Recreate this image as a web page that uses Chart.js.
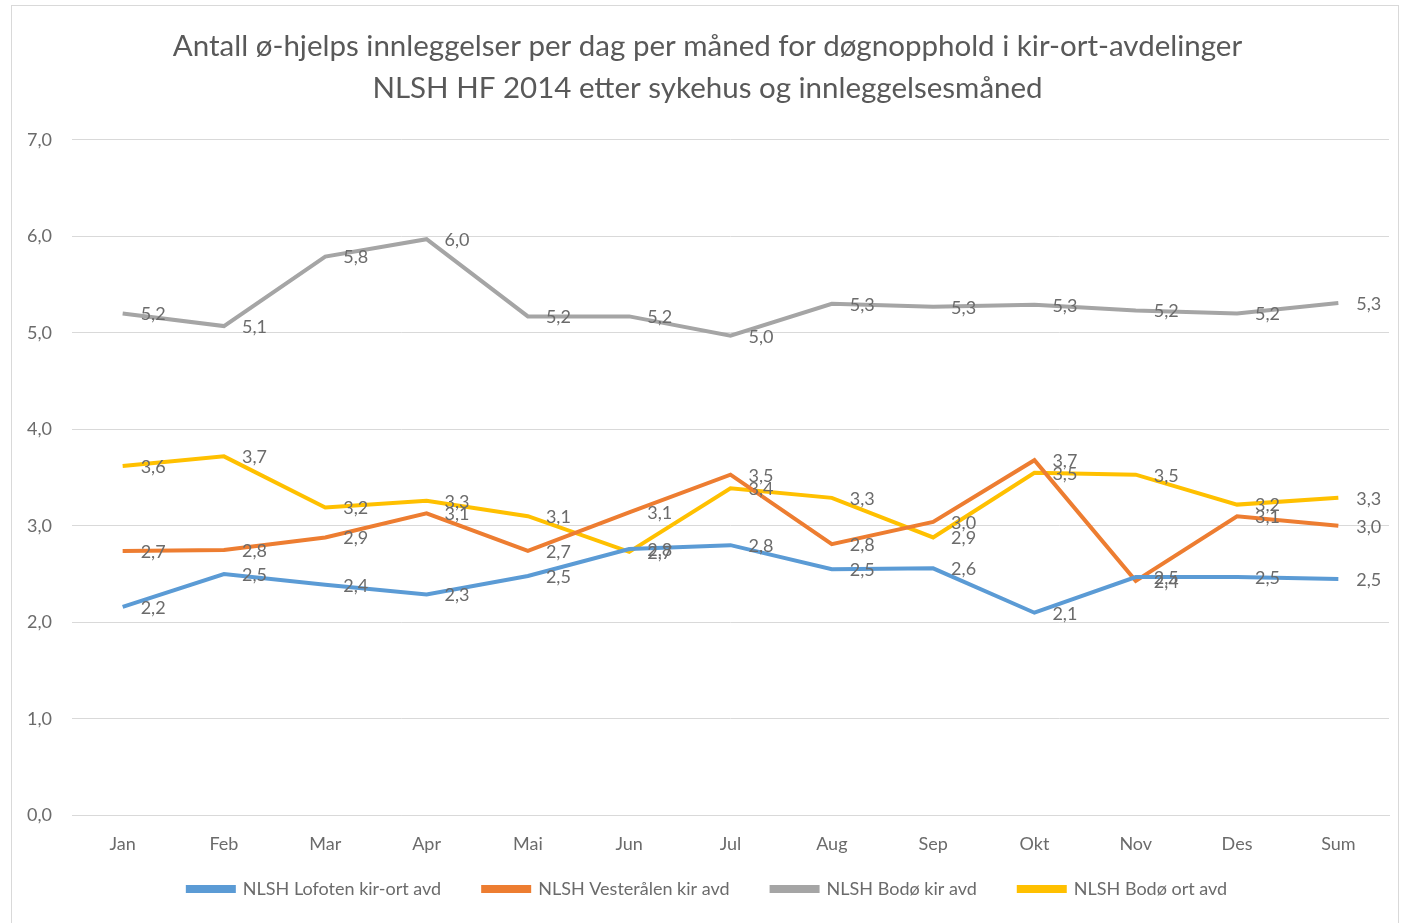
<!DOCTYPE html>
<html>
<head>
<meta charset="utf-8">
<script src="https://cdn.jsdelivr.net/npm/chart.js@4/dist/chart.umd.min.js"></script>
<style>
  body { margin: 0; background: #fff; }
  #frame { position: absolute; left: 11px; top: 5px; width: 1386px; height: 930px; border: 1px solid #d9d9d9; }
  canvas { display: block; }
</style>
</head>
<body>
<div id="frame"><canvas id="chart" width="1386" height="930"></canvas></div>
<script>
const months = ["Jan", "Feb", "Mar", "Apr", "Mai", "Jun", "Jul", "Aug", "Sep", "Okt", "Nov", "Des", "Sum"];
const lofoten = [2.16, 2.50, 2.39, 2.29, 2.48, 2.76, 2.80, 2.55, 2.56, 2.10, 2.47, 2.47, 2.45];
const vesteraalen = [2.74, 2.75, 2.88, 3.13, 2.74, 3.14, 3.53, 2.81, 3.04, 3.68, 2.43, 3.10, 3.00];
const bodoKir = [5.20, 5.07, 5.79, 5.97, 5.17, 5.17, 4.97, 5.30, 5.27, 5.29, 5.23, 5.20, 5.31];
const bodoOrt = [3.62, 3.72, 3.19, 3.26, 3.10, 2.73, 3.39, 3.29, 2.88, 3.55, 3.53, 3.22, 3.29];
const yTicks = [0, 1, 2, 3, 4, 5, 6, 7];

const titleColor = '#595959';
const textColor = '#6b6b6b';
const fontFamily = 'Lato, "Open Sans", sans-serif';

function fmt(v) {
	return v.toFixed(1).replace('.', ',');
}

// labels to the right of each point, like Excel's "right" position
const pointLabels = {
	id: 'pointLabels',
	afterDatasetsDraw(chart) {
		const ctx = chart.ctx;
		ctx.save();
		ctx.font = '18px ' + fontFamily;
		ctx.fillStyle = textColor;
		ctx.textAlign = 'left';
		ctx.textBaseline = 'middle';
		chart.data.datasets.forEach((ds, i) => {
			chart.getDatasetMeta(i).data.forEach((pt, j) => {
				ctx.fillText(fmt(ds.data[j]), pt.x + 18, pt.y + 1);
			});
		});
		ctx.restore();
	}
};

function series(label, data, color) {
	return {
		label: label,
		data: data,
		borderColor: color,
		backgroundColor: color,
		borderWidth: 4,
		pointRadius: 0,
		tension: 0
	};
}

new Chart(document.getElementById('chart'), {
	type: 'line',
	data: {
		labels: months,
		datasets: [
			series('NLSH Lofoten kir-ort avd', lofoten, '#5B9BD5'),
			series('NLSH Vesterålen kir avd', vesteraalen, '#ED7D31'),
			series('NLSH Bodø kir avd', bodoKir, '#A5A5A5'),
			series('NLSH Bodø ort avd', bodoOrt, '#FFC000')
		]
	},
	options: {
		responsive: false,
		animation: false,
		layout: { padding: { left: 14, right: 9, top: 20, bottom: 28 } },
		plugins: {
			title: {
				display: true,
				text: ['Antall ø-hjelps innleggelser per dag per måned for døgnopphold i kir-ort-avdelinger', 'NLSH HF 2014 etter sykehus og innleggelsesmåned'],
				color: titleColor,
				font: { family: fontFamily, size: 29.5, weight: 'normal', lineHeight: 1.42 },
				padding: { top: 0, bottom: 30 }
			},
			legend: {
				position: 'bottom',
				labels: {
					color: textColor,
					font: { family: fontFamily, size: 18 },
					boxWidth: 46,
					boxHeight: 4,
					padding: 15,
					generateLabels(chart) {
						const items = Chart.defaults.plugins.legend.labels.generateLabels(chart);
						items.forEach((it, i) => {
							if (i < items.length - 1) it.text = it.text + '\u2002\u2002\u2002';
						});
						return items;
					}
				}
			},
			tooltip: { enabled: false }
		},
		scales: {
			x: {
				offset: true,
				grid: { display: false },
				border: { color: '#d9d9d9' },
				ticks: { color: textColor, font: { family: fontFamily, size: 18 }, padding: 10 }
			},
			y: {
				min: 0,
				max: 7,
				afterBuildTicks(axis) { axis.ticks = yTicks.map((v) => ({ value: v })); },
				afterFit(axis) { axis.width = 46; },
				grid: { color: '#d9d9d9', drawTicks: false },
				border: { display: false },
				ticks: { color: textColor, font: { family: fontFamily, size: 18 }, padding: 20, callback: (v) => fmt(v) }
			}
		}
	},
	plugins: [pointLabels]
});
</script>
</body>
</html>
